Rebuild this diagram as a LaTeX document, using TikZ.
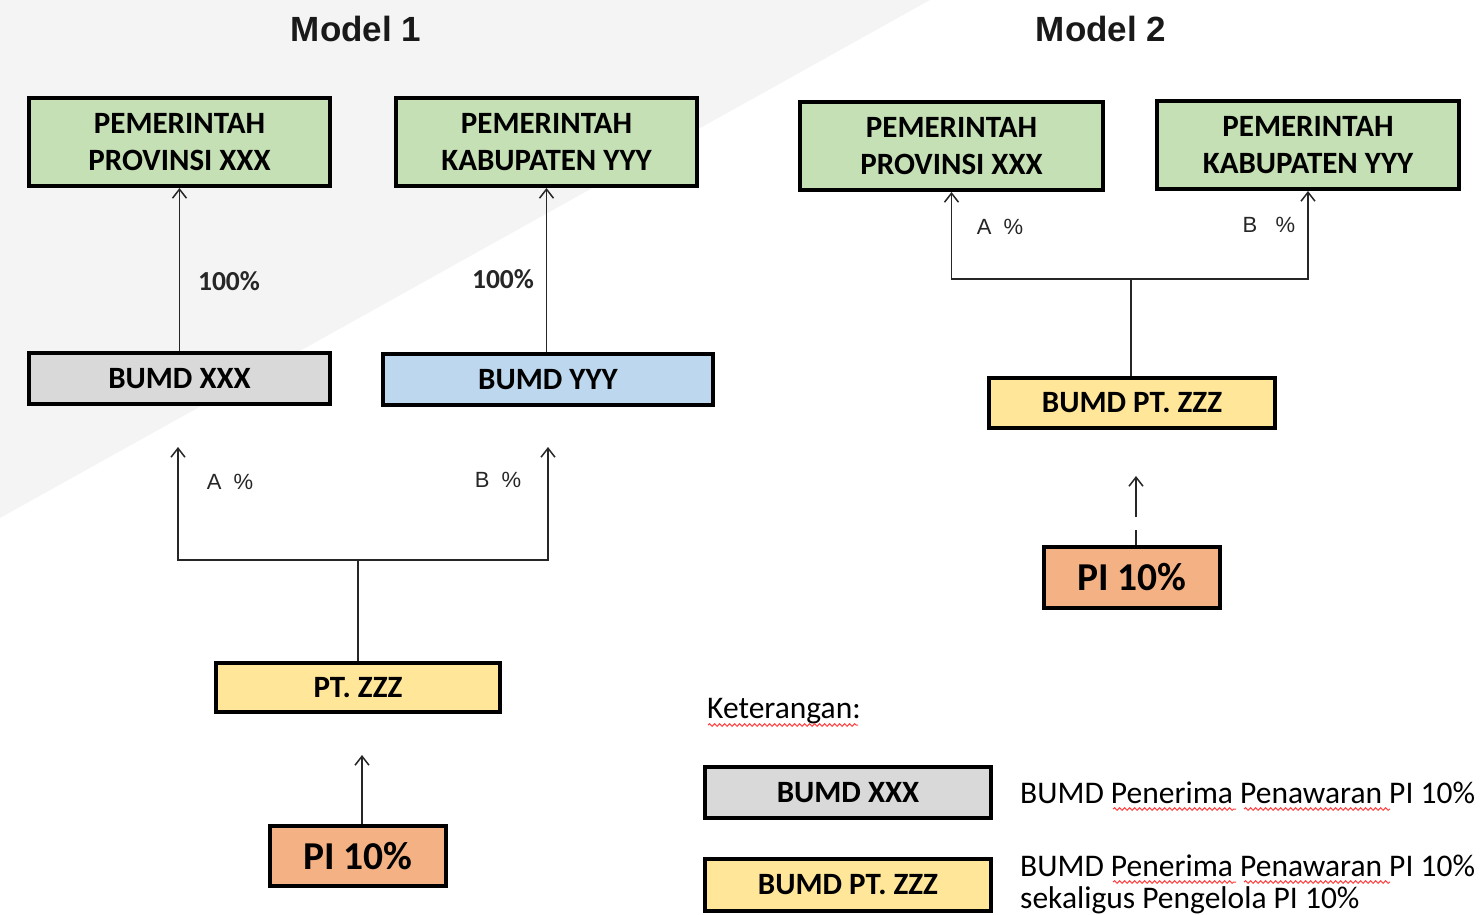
\documentclass[tikz,border=0pt]{standalone}
\usepackage{fontspec}
\setmainfont{Carlito}
\newfontfamily\arialf{Liberation Sans}
\usetikzlibrary{arrows.meta,decorations.pathmorphing}
\definecolor{bgtri}{HTML}{F4F4F4}
\definecolor{gov}{HTML}{C5E0B4}
\definecolor{bgray}{HTML}{D9D9D9}
\definecolor{bblue}{HTML}{BDD7EE}
\definecolor{byel}{HTML}{FFE699}
\definecolor{bora}{HTML}{F4B183}
\newcommand\fsz[2]{\fontsize{#1pt}{#2pt}\selectfont}
\begin{document}
\begin{tikzpicture}[x=1pt,y=-1pt,
 box/.style={draw=black, line width=4pt, inner sep=0pt, align=center, text=black, font=\bfseries\fsz{31}{37}},
 conn/.style={line width=1.5pt, draw=black!85},
 tip/.style={-{Straight Barb[length=9pt,width=14pt]}},
 lbl/.style={font=\arialf\fsz{22}{26}, text=black!85},
 pct/.style={font=\bfseries\fsz{27.5}{32}, text=black!85},
 legtxt/.style={anchor=base west, font=\fsz{31.5}{36}, text=black, inner sep=0pt},
 wavy/.style={draw=red!75!white, line width=1pt, decorate, decoration={snake, segment length=5pt, amplitude=1.3pt}},
 title/.style={font=\arialf\bfseries\fsz{35}{40}, text=black!90}
]
\useasboundingbox (0,0) rectangle (1480,914);
\fill[bgtri] (0,0) -- (930,0) -- (0,518) -- cycle;

% titles
\node[title] (t1title) at (356,29) {Model 1};
\node[title] (t2title) at (1101,29) {Model 2};

% Model 1 boxes
\node[box, fill=gov, minimum width=301pt, minimum height=88pt] (p1) at (179.5,142) {PEMERINTAH\\PROVINSI XXX};
\node[box, fill=gov, minimum width=301pt, minimum height=88pt] (k1) at (546.5,142) {PEMERINTAH\\KABUPATEN YYY};
\node[box, fill=bgray, minimum width=301pt, minimum height=51pt] (bx1) at (179.5,378.5) {BUMD XXX};
\node[box, fill=bblue, minimum width=330pt, minimum height=51pt] (by1) at (548,379.5) {BUMD YYY};
\node[box, fill=byel, minimum width=284pt, minimum height=49pt] (pt1) at (358,687.5) {PT. ZZZ};
\node[box, fill=bora, minimum width=176pt, minimum height=60pt, font=\bfseries\fsz{39.5}{44}] (pi1) at (358,856) {PI 10\%};

% Model 1 connectors
\draw[conn,tip] (bx1.north) -- (p1.south);
\draw[conn,tip] (k1.south |- by1.north) -- (k1.south);
\node[pct] (pa1) at (229,281) {100\%};
\node[pct] (pb1) at (503,279) {100\%};
\coordinate (j1) at (358,560);
\coordinate (a1) at (178,447);
\coordinate (b1) at (548,447);
\draw[conn] (pt1.north) -- (j1);
\draw[conn,tip] (j1) -| (a1);
\draw[conn,tip] (j1) -| (b1);
\node[lbl] (la1) at (230,482) {A~~\%};
\node[lbl] (lb1) at (498,480) {B~~\%};
\coordinate (t1) at (362,755);
\draw[conn,tip] (pi1.north -| t1) -- (t1);

% Model 2 boxes
\node[box, fill=gov, minimum width=303pt, minimum height=88pt] (p2) at (951.5,146) {PEMERINTAH\\PROVINSI XXX};
\node[box, fill=gov, minimum width=302pt, minimum height=88pt] (k2) at (1308,145) {PEMERINTAH\\KABUPATEN YYY};
\node[box, fill=byel, minimum width=286pt, minimum height=50pt] (bz2) at (1132,403) {BUMD PT. ZZZ};
\node[box, fill=bora, minimum width=176pt, minimum height=61pt, font=\bfseries\fsz{39.5}{44}] (pi2) at (1132,577.5) {PI 10\%};

% Model 2 connectors
\coordinate (j2) at (1131,279);
\draw[conn] (bz2.north -| j2) -- (j2);
\draw[conn,tip] (j2) -| (p2.south);
\draw[conn,tip] (j2) -| (k2.south);
\node[lbl] (la2) at (1000,227) {A~~\%};
\node[lbl] (lb2) at (1269,225) {B~~~\%};
\coordinate (t2) at (1136,476);
\draw[conn,tip,dash pattern=on 15pt off 13pt on 80pt off 0pt] (pi2.north -| t2) -- (t2);

% Legend
\node[legtxt] (ket) at (707,718) {Keterangan:};
\draw[wavy] (708,725) -- (858,725);
\node[box, fill=bgray, minimum width=286pt, minimum height=51pt] (lg1) at (848,792.5) {BUMD XXX};
\node[box, fill=byel, minimum width=286pt, minimum height=52pt] (lg2) at (848,885) {BUMD PT. ZZZ};
\node[legtxt] (d1) at (1020,803) {BUMD Penerima Penawaran PI 10\%};
\node[legtxt] (d2) at (1020,876) {BUMD Penerima Penawaran PI 10\%};
\node[legtxt] (d3) at (1020,908) {sekaligus Pengelola PI 10\%};
\draw[wavy] (1113,809) -- (1236,809);
\draw[wavy] (1244,809) -- (1390,809);
\draw[wavy] (1113,882) -- (1236,882);
\draw[wavy] (1244,882) -- (1390,882);
\end{tikzpicture}
\end{document}
